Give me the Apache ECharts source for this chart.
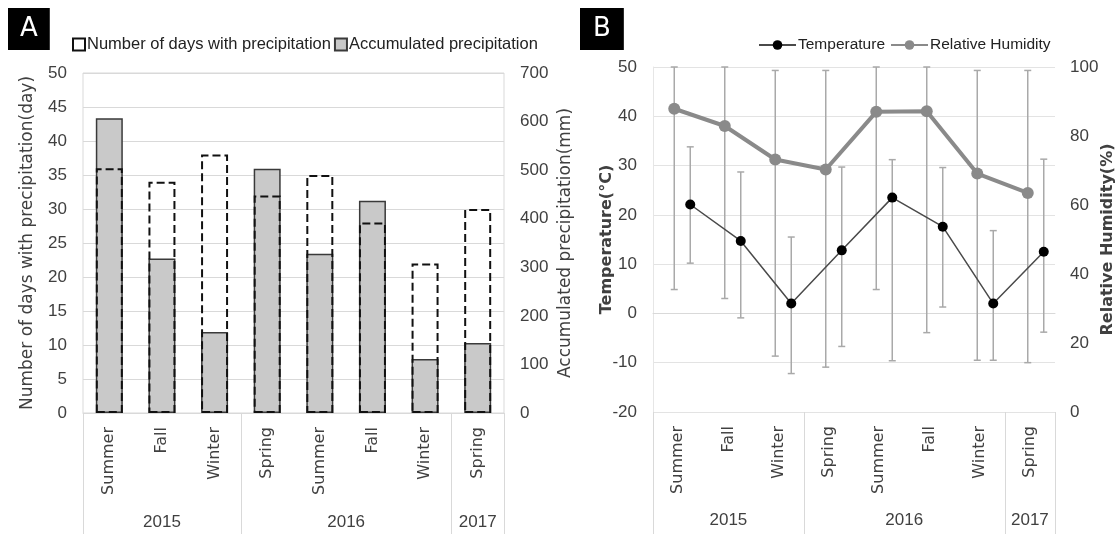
<!DOCTYPE html>
<html><head><meta charset="utf-8">
<script src="https://cdn.jsdelivr.net/npm/echarts@6/dist/echarts.min.js"></script>
<style>html,body{margin:0;padding:0;background:#fff}#c{width:1117px;height:534px}</style>
</head><body><div id="c"></div>
<script>
// ---- data ----
const seasons = ['Summer','Fall','Winter','Spring','Summer','Fall','Winter','Spring'];
const years = ['2015','2016','2017'];
const yearSpans = [3,4,1];
const rainDays = [36,34,38,32,35,28,22,30];
const rainMm = [607,318,167,503,328,437,111,144];
const tempMean = [22.1,14.7,2.0,12.8,23.5,17.6,2.0,12.5];
const tempMax = [33.8,28.7,15.5,29.7,31.2,29.6,16.8,31.3];
const tempMin = [10.2,-0.9,-12.2,-6.7,-9.6,1.3,-9.5,-3.8];
const humMean = [87.9,82.9,73.2,70.3,87.0,87.2,69.1,63.5];
const humMax = [100,100,99,99,100,100,99,99];
const humMin = [35.5,32.9,16.2,13.0,35.5,23.0,15.0,14.3];
const daysTicks = {min:0,max:50,interval:5};
const mmTicks = {min:0,max:700,interval:100};
const tempTicks = {min:-20,max:50,interval:10};
const humTicks = {min:0,max:100,interval:20};

// ---- derived group positions ----
const bounds = [0];
yearSpans.forEach(s => bounds.push(bounds[bounds.length-1] + s));
const centers = yearSpans.map((s,i) => bounds[i] + s/2);

const NUM = '"Liberation Sans",Arial,sans-serif';
const WIDE = '"DejaVu Sans",sans-serif';
const GRIDC = '#d9d9d9';
const TXT = '#404040';

const chart = echarts.init(document.getElementById('c'));

function catAxis(grid, show) {
  return {
    type:'category', gridIndex:grid, data:seasons, boundaryGap:true, show:show,
    axisLine:{show:true, lineStyle:{color:GRIDC}}, axisTick:{show:false},
    axisLabel:{rotate:90, margin:14, color:TXT, fontFamily:WIDE, fontSize:16},
    splitLine:{show:false}
  };
}
function yearAxis(grid, margin) {
  return {
    type:'value', gridIndex:grid, min:0, max:seasons.length, position:'bottom',
    axisLine:{show:false}, splitLine:{show:false},
    axisTick:{show:true, customValues:bounds, length:122, lineStyle:{color:GRIDC, width:1}},
    axisLabel:{customValues:centers, margin:margin, color:TXT, fontFamily:NUM, fontSize:17,
      formatter: v => { const k = centers.indexOf(v); return k >= 0 ? years[k] : ''; }}
  };
}
function errRender(color) {
  return function(params, api) {
    const x = api.value(0);
    const p1 = api.coord([x, api.value(1)]);
    const p2 = api.coord([x, api.value(2)]);
    const cap = 3.5;
    const st = {stroke:color, lineWidth:1.5};
    return {type:'group', children:[
      {type:'line', shape:{x1:p1[0],y1:p1[1],x2:p2[0],y2:p2[1]}, style:st},
      {type:'line', shape:{x1:p1[0]-cap,y1:p1[1],x2:p1[0]+cap,y2:p1[1]}, style:st},
      {type:'line', shape:{x1:p2[0]-cap,y1:p2[1],x2:p2[0]+cap,y2:p2[1]}, style:st}
    ]};
  };
}

const option = {
  backgroundColor:'#fff',
  animation:false,
  title:[
    {text:'A', left:8, top:8, backgroundColor:'#000', padding:[5,12,4,12],
     textStyle:{color:'#fff', fontFamily:WIDE, fontSize:26, fontWeight:'normal', lineHeight:33}},
    {text:'B', left:580, top:8, backgroundColor:'#000', padding:[5,13,4,13],
     textStyle:{color:'#fff', fontFamily:WIDE, fontSize:26, fontWeight:'normal', lineHeight:33}}
  ],
  legend:[
    {data:[{name:'Number of days with precipitation', icon:'rect'},{name:'Accumulated precipitation', icon:'rect'}], left:67, top:31,
     itemWidth:12, itemHeight:12, itemGap:3, textStyle:{fontFamily:NUM, fontSize:16.5, color:'#222', padding:[0,0,0,-3]}},
    {data:['Temperature','Relative Humidity'], left:753, top:32,
     itemWidth:37, itemHeight:12, itemGap:5, textStyle:{fontFamily:NUM, fontSize:15.5, color:'#222', padding:[0,0,0,-3]}}
  ],
  grid:[
    {left:83, right:613, top:73, bottom:121, show:true, borderColor:GRIDC, borderWidth:1},
    {left:653, right:60, top:67, bottom:122},
    {left:649, right:64, top:67, bottom:122},
    {left:665, right:48, top:67, bottom:122}
  ],
  xAxis:[
    catAxis(0, true),
    yearAxis(0, 101),
    catAxis(1, true),
    yearAxis(1, 100),
    catAxis(2, false),
    catAxis(3, false)
  ],
  yAxis:[
    {type:'value', gridIndex:0, position:'left', min:daysTicks.min, max:daysTicks.max, interval:daysTicks.interval,
     name:'Number of days with precipitation(day)', nameLocation:'middle', nameGap:47, nameMoveOverlap:false,
     nameTextStyle:{fontFamily:WIDE, fontSize:17, color:TXT},
     axisLine:{show:false}, axisTick:{show:false}, splitLine:{lineStyle:{color:GRIDC}},
     axisLabel:{margin:16, color:TXT, fontFamily:NUM, fontSize:17}},
    {type:'value', gridIndex:0, position:'right', min:mmTicks.min, max:mmTicks.max, interval:mmTicks.interval,
     name:'Accumulated precipitation(mm)', nameLocation:'middle', nameGap:53, nameMoveOverlap:false,
     nameTextStyle:{fontFamily:WIDE, fontSize:17, color:TXT},
     axisLine:{show:false}, axisTick:{show:false}, splitLine:{show:false},
     axisLabel:{margin:16, color:TXT, fontFamily:NUM, fontSize:17}},
    {type:'value', gridIndex:1, position:'left', min:tempTicks.min, max:tempTicks.max, interval:tempTicks.interval,
     name:'Temperature(°C)', nameLocation:'middle', nameGap:38, nameMoveOverlap:false,
     nameTextStyle:{fontFamily:WIDE, fontSize:16, fontWeight:'bold', color:TXT},
     axisLine:{show:true, lineStyle:{color:'#e6e6e6'}}, axisTick:{show:false}, splitLine:{lineStyle:{color:'#e3e3e3'}},
     axisLabel:{margin:16, color:TXT, fontFamily:NUM, fontSize:17}},
    {type:'value', gridIndex:1, position:'right', min:humTicks.min, max:humTicks.max, interval:humTicks.interval,
     name:'Relative Humidity(%)', nameLocation:'middle', nameGap:45, nameMoveOverlap:false,
     nameTextStyle:{fontFamily:WIDE, fontSize:16, fontWeight:'bold', color:TXT},
     axisLine:{show:false}, axisTick:{show:false}, splitLine:{show:false},
     axisLabel:{margin:15, color:TXT, fontFamily:NUM, fontSize:17}},
    {type:'value', gridIndex:2, show:false, min:humTicks.min, max:humTicks.max, splitLine:{show:false}},
    {type:'value', gridIndex:3, show:false, min:tempTicks.min, max:tempTicks.max, splitLine:{show:false}}
  ],
  series:[
    {name:'Accumulated precipitation', type:'bar', xAxisIndex:0, yAxisIndex:1, data:rainMm,
     barWidth:27, barGap:'-100%',
     itemStyle:{color:'#c9c9c9', borderColor:'#3a3a3a', borderWidth:1.5}, z:2},
    {name:'Number of days with precipitation', type:'bar', xAxisIndex:0, yAxisIndex:0, data:rainDays,
     barWidth:27, barGap:'-100%',
     itemStyle:{color:'rgba(0,0,0,0)', borderColor:'#111', borderWidth:2, borderType:[8,4]}, z:3},
    {name:'humErr', type:'custom', xAxisIndex:4, yAxisIndex:4, renderItem:errRender('#a9a9a9'),
     data:seasons.map((s,i)=>[i, humMin[i], humMax[i]]), encode:{x:0, y:[1,2]}, z:1, silent:true},
    {name:'tempErr', type:'custom', xAxisIndex:5, yAxisIndex:5, renderItem:errRender('#a9a9a9'),
     data:seasons.map((s,i)=>[i, tempMin[i], tempMax[i]]), encode:{x:0, y:[1,2]}, z:1, silent:true},
    {name:'Relative Humidity', type:'line', xAxisIndex:4, yAxisIndex:4, data:humMean,
     symbol:'circle', symbolSize:12, lineStyle:{color:'#8a8a8a', width:4}, itemStyle:{color:'#8a8a8a'}, z:3},
    {name:'Temperature', type:'line', xAxisIndex:5, yAxisIndex:5, data:tempMean,
     symbol:'circle', symbolSize:10, lineStyle:{color:'#4a4a4a', width:1.5}, itemStyle:{color:'#000'}, z:4}
  ]
};
chart.setOption(option);
</script>
</body></html>
